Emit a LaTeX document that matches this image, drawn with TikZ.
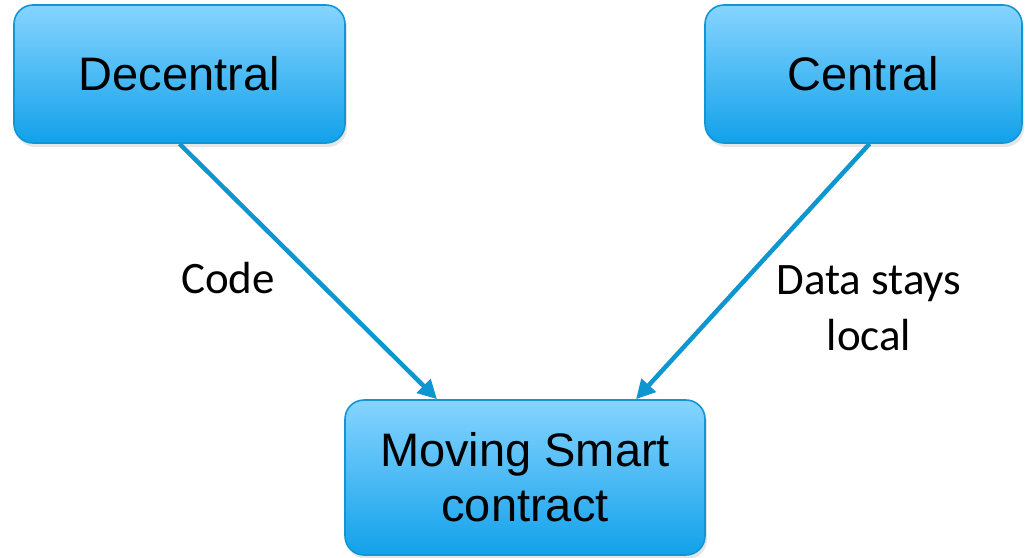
\documentclass[tikz,border=0pt]{standalone}
\usepackage{fontspec}
\setmainfont{Liberation Sans}
\newfontfamily\lblfont{Carlito}
\usepackage{tikz}
\usetikzlibrary{arrows.meta,positioning,shadows}
\definecolor{Edge}{HTML}{1196D3}
\definecolor{SkyTop}{HTML}{86D4FF}
\definecolor{SkyBot}{HTML}{12A1EA}
\definecolor{Wire}{HTML}{0E96D1}
\tikzset{
 box/.style={draw=Edge,line width=1.6pt,rounded corners=19pt,align=center,
   top color=SkyTop,bottom color=SkyBot,
   font=\fontsize{47}{55}\selectfont,inner sep=0pt,
   drop shadow={shadow xshift=2pt,shadow yshift=-4pt,opacity=0.2}},
 arr/.style={-{Triangle[length=19pt,width=19pt]},line width=4.5pt,draw=Wire},
 lbl/.style={font=\lblfont\fontsize{45}{56}\selectfont,align=center,inner sep=0pt}
}
\begin{document}
\begin{tikzpicture}[x=1pt,y=-1pt]
\useasboundingbox (0,0) rectangle (1025,557);
\node[box,minimum width=331pt,minimum height=138pt] (dec) at (179.5,74) {Decentral};
\node[box,minimum width=317pt,minimum height=138pt] (cen) at (863.5,74) {Central};
\node[box,minimum width=360pt,minimum height=155pt] (mov) at (525,477.5) {Moving Smart\\contract};
\node[lbl] (code) at (228,278) {Code};
\node[lbl] (data) at (869,308) {Data stays\\local};
\draw[arr] (dec.south) -- ([xshift=-88pt]mov.north);
\draw[arr] ([xshift=6pt]cen.south) -- ([xshift=111pt]mov.north);
\end{tikzpicture}
\end{document}
